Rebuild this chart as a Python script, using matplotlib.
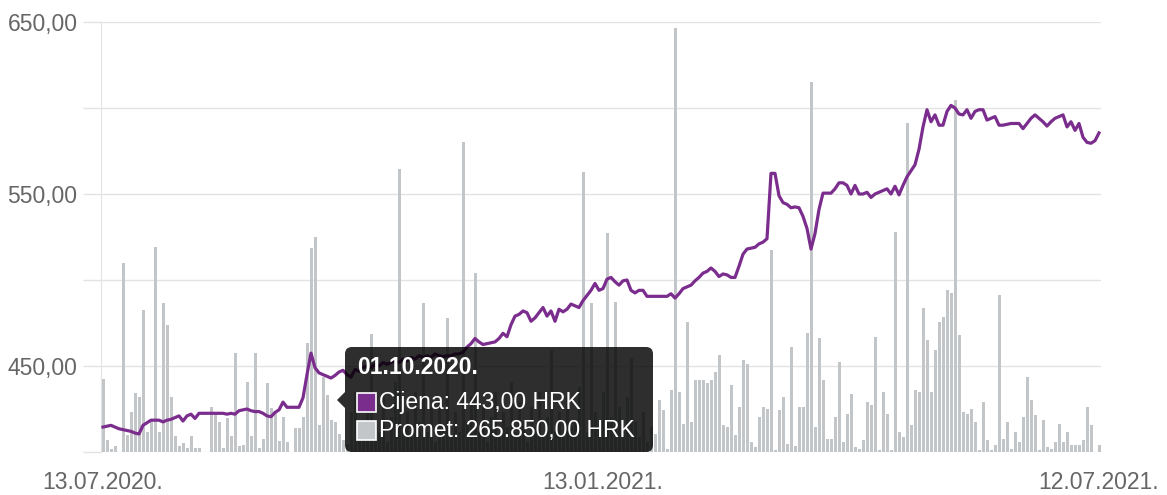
import matplotlib
matplotlib.use("Agg")
import matplotlib.pyplot as plt
from matplotlib.patches import FancyBboxPatch, Polygon, Rectangle
from matplotlib.ticker import FixedLocator, FuncFormatter

plt.rcParams['font.family'] = ['Liberation Sans', 'DejaVu Sans']

# labels on the date axis (trading day index -> label)
oznake_idx = [0, 125, 249]
oznake_txt = ['13.07.2020.', '13.01.2021.', '12.07.2021.']

# closing price, HRK (one value per trading day)
cijena = [
    414.5, 415, 415.5, 414.5, 413.5, 413, 412.5, 412, 411, 410.5,
    415.5, 417, 418.5, 418.5, 418.5, 417.5, 418.5, 419, 420, 421,
    418, 421, 422, 419.5, 422.5, 422.5, 422.5, 422.5, 422.5, 422.5,
    422.5, 422, 422.5, 422, 424, 424.5, 425, 424, 423.5, 423.5,
    422.5, 421, 420.5, 423, 424.5, 429, 426, 426, 426, 426,
    431.5, 445, 457.5, 449, 446, 445, 444, 443, 444.5, 446.5,
    447.5, 445, 443.5, 448, 447, 449, 450, 449, 451, 450,
    452, 451, 452, 453, 452, 454, 453, 455, 454, 456,
    455, 456, 455, 457, 456, 455.5, 456, 456, 457, 457,
    458, 461, 463, 466, 464, 462.5, 463, 463.5, 464, 466,
    469, 467, 474, 479, 480, 482, 481, 476, 478, 481,
    484, 479, 482, 476, 483, 481.5, 483, 486, 485, 484,
    488, 491, 494, 498, 494, 495, 500.5, 501.5, 499, 497,
    499.5, 500, 494, 492.5, 494, 494, 490.5, 490.5, 490.5, 490.5,
    490.5, 490.5, 492, 489.5, 492, 495, 496, 497, 499.5, 501.5,
    504, 505, 507, 505, 502, 503.5, 503, 501.5, 501.5, 508,
    515, 518, 518.5, 519, 521, 522, 524, 562, 562, 549,
    545, 544, 542, 542.5, 542, 537, 530, 518, 527, 541,
    550.5, 550.5, 550.5, 553, 556.5, 556.5, 555, 550, 555, 550,
    550, 551, 548, 550, 551, 552, 553, 550, 554.5, 549.5,
    555, 560, 563.5, 567, 576, 589, 599, 592, 596, 590,
    590, 598, 601.5, 600, 596.5, 596, 599, 594, 598, 599,
    599, 593, 594, 595, 590, 590, 590.5, 591, 591, 591,
    588, 591, 594, 596, 594, 592, 589.5, 592, 594, 595,
    596, 589, 592, 587, 591, 583, 580, 579.5, 581, 585.5,
]

# turnover, thousands of HRK
promet = [
    606, 100, 25, 50, 0, 1569, 141, 332, 490, 457,
    1179, 166, 266, 1702, 166, 1237, 1054, 457, 133, 50,
    75, 33, 133, 33, 33, 0, 0, 374, 332, 249,
    33, 282, 133, 822, 50, 58, 581, 133, 822, 33,
    108, 573, 365, 324, 91, 291, 83, 0, 199, 199,
    291, 905, 1693, 1785, 224, 623, 473, 265.85, 249, 149,
    100, 66, 332, 498, 208, 125, 374, 980, 249, 166,
    457, 83, 291, 581, 2349, 208, 332, 125, 498, 249,
    1237, 166, 374, 83, 415, 208, 1112, 125, 332, 166,
    2573, 249, 457, 1486, 166, 374, 83, 291, 498, 125,
    332, 208, 581, 166, 415, 249, 83, 374, 208, 498,
    125, 291, 847, 166, 332, 125, 457, 208, 249, 540,
    2324, 166, 1237, 332, 208, 498, 1818, 291, 1245, 374,
    166, 457, 780, 249, 125, 332, 83, 208, 149, 432,
    349, 25, 515, 3519, 498, 232, 1079, 249, 598, 598,
    598, 573, 598, 664, 805, 224, 208, 556, 141, 374,
    764, 730, 83, 42, 291, 374, 357, 1677, 17, 349,
    457, 66, 872, 50, 374, 374, 988, 3071, 208, 946,
    598, 108, 108, 291, 747, 83, 315, 481, 42, 25,
    100, 415, 390, 955, 17, 498, 315, 17, 1826, 166,
    125, 2731, 224, 515, 498, 1195, 930, 498, 847, 1079,
    1121, 1345, 1320, 2922, 971, 332, 315, 357, 249, 17,
    415, 100, 17, 58, 1303, 108, 249, 25, 166, 83,
    291, 623, 432, 307, 17, 266, 42, 25, 83, 232,
    83, 166, 58, 58, 58, 100, 374, 224, 0, 58,
]

# tooltip content
tt_naslov = '01.10.2020.'
tt_cijena = 'Cijena: 443,00 HRK'
tt_promet = 'Promet: 265.850,00 HRK'

LJUB = '#7b2d8e'
SIVA = '#c3c6c9'
MREZA = '#e3e3e3'
TEKST = '#666666'

W, H = 1167, 495
fig = plt.figure(figsize=(W / 100, H / 100), dpi=100)
rect = [101 / W, 43 / H, 1000 / W, 430 / H]
dani = list(range(len(cijena)))

# grid / axes layer
ax = fig.add_axes(rect)
ax.set_xlim(-0.5, len(cijena) - 0.5)
ax.set_ylim(400, 650)
ax.yaxis.set_major_locator(FixedLocator([400, 450, 500, 550, 600, 650]))
ax.yaxis.set_major_formatter(FuncFormatter(
    lambda v, p: ('%.2f' % v).replace('.', ',') if int(v) % 100 == 50 else ''))
ax.grid(axis='y', color=MREZA, lw=1)
ax.tick_params(axis='y', length=13, width=1, color=MREZA, pad=4,
               labelsize=16.5, labelcolor=TEKST)
ax.set_xticks(oznake_idx)
ax.set_xticklabels(oznake_txt)
ax.tick_params(axis='x', length=0, pad=14, labelsize=16.5, labelcolor=TEKST)
for s in ['top', 'right', 'bottom']:
    ax.spines[s].set_visible(False)
ax.spines['left'].set_color(MREZA)

# turnover bars
axv = fig.add_axes(rect)
axv.patch.set_visible(False)
axv.set_xlim(-0.5, len(cijena) - 0.5)
axv.set_ylim(0, 3572)
axv.bar(dani, promet, width=0.75, color=SIVA, linewidth=0)
axv.axis('off')

# price line
axp = fig.add_axes(rect)
axp.patch.set_visible(False)
axp.set_xlim(-0.5, len(cijena) - 0.5)
axp.set_ylim(400, 650)
axp.plot(dani, cijena, color=LJUB, lw=2.3, solid_joinstyle='round')
axp.axis('off')

# tooltip overlay in pixel coordinates
ov = fig.add_axes([0, 0, 1, 1])
ov.set_xlim(0, W)
ov.set_ylim(H, 0)
ov.axis('off')
bg = (0, 0, 0, 0.82)
ov.add_patch(FancyBboxPatch((345, 347), 308, 105,
                            boxstyle='round,pad=0,rounding_size=7',
                            fc=bg, ec='none'))
ov.add_patch(Polygon([(337, 400), (345, 392), (345, 408)], closed=True,
                     fc=bg, ec='none'))
ov.text(357, 367, tt_naslov, color='white', fontsize=16.5, fontweight='bold',
        va='center', ha='left')
ov.add_patch(Rectangle((357, 393), 19, 19, fc=LJUB, ec='white', lw=1.2))
ov.text(379, 402, tt_cijena, color='white', fontsize=16.5, va='center', ha='left')
ov.add_patch(Rectangle((357, 421), 19, 19, fc=SIVA, ec='white', lw=1.2))
ov.text(379, 430, tt_promet, color='white', fontsize=16.5, va='center', ha='left')

fig.savefig('out.png', dpi=100)
